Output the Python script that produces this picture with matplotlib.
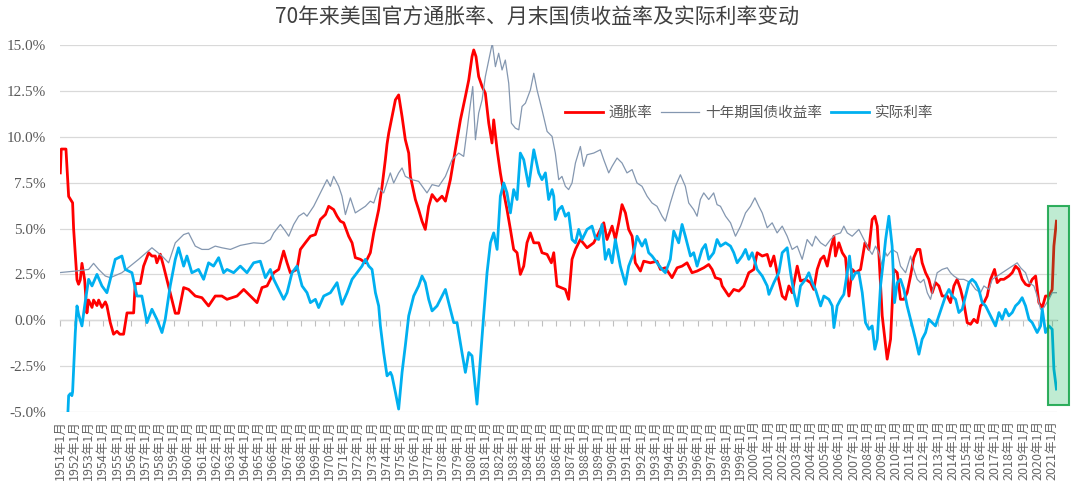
import matplotlib
matplotlib.use("Agg")
import matplotlib.pyplot as plt
from matplotlib.patches import Rectangle

plt.rcParams['font.family'] = ['Noto Sans CJK SC', 'DejaVu Sans']

title = "70年来美国官方通胀率、月末国债收益率及实际利率变动"
series_names = ["通胀率", "十年期国债收益率", "实际利率"]
years = list(range(1951, 2022))
tick_labels = [f"{y}年1月" for y in years]

# (decimal year, %)
inflation = [
    (1951.00, 8.03), (1951.07, 9.33), (1951.40, 9.33), (1951.59, 6.75), (1951.71, 6.60),
    (1951.87, 6.40), (1951.94, 5.00), (1952.18, 2.20), (1952.29, 1.96), (1952.41, 2.20),
    (1952.53, 3.10), (1952.72, 2.20), (1952.88, 0.40), (1953.00, 1.10), (1953.24, 0.70),
    (1953.35, 1.10), (1953.59, 0.80), (1953.71, 1.10), (1953.94, 0.70), (1954.18, 1.00),
    (1954.29, 0.80), (1954.53, -0.13), (1954.76, -0.76), (1955.00, -0.60), (1955.20, -0.76),
    (1955.47, -0.76), (1955.71, 0.40), (1956.18, 0.40), (1956.29, 2.00), (1956.65, 2.00),
    (1956.88, 2.95), (1957.24, 3.68), (1957.47, 3.50), (1957.71, 3.50), (1957.82, 3.13),
    (1958.06, 3.60), (1958.29, 2.95), (1958.76, 1.50), (1959.12, 0.38), (1959.35, 0.38),
    (1959.71, 1.78), (1960.06, 1.68), (1960.53, 1.32), (1961.00, 1.23), (1961.47, 0.78),
    (1961.94, 1.32), (1962.41, 1.32), (1962.77, 1.14), (1963.48, 1.32), (1963.95, 1.68),
    (1964.42, 1.32), (1964.89, 0.96), (1965.24, 1.78), (1965.60, 1.87), (1966.07, 2.59),
    (1966.42, 2.77), (1966.77, 3.77), (1967.01, 3.13), (1967.24, 2.59), (1967.71, 2.77),
    (1967.95, 3.86), (1968.30, 4.22), (1968.66, 4.58), (1969.01, 4.67), (1969.36, 5.49),
    (1969.72, 5.76), (1969.95, 6.21), (1970.30, 6.03), (1970.54, 5.67), (1970.77, 5.40),
    (1971.01, 5.31), (1971.36, 4.58), (1971.60, 4.22), (1971.83, 3.41), (1972.19, 3.32),
    (1972.54, 3.13), (1972.89, 3.68), (1973.13, 4.76), (1973.48, 6.03), (1973.72, 7.30),
    (1973.95, 8.75), (1974.07, 9.60), (1974.19, 10.20), (1974.42, 11.10), (1974.66, 12.01),
    (1974.89, 12.28), (1975.13, 11.10), (1975.36, 9.84), (1975.60, 9.11), (1975.72, 7.84),
    (1976.07, 6.58), (1976.30, 6.03), (1976.54, 5.40), (1976.77, 4.95), (1977.01, 6.21),
    (1977.25, 6.85), (1977.60, 6.49), (1977.95, 6.76), (1978.19, 6.49), (1978.54, 7.66),
    (1978.89, 9.29), (1979.25, 10.92), (1979.60, 12.19), (1979.84, 13.10), (1980.07, 14.37),
    (1980.19, 14.73), (1980.35, 14.37), (1980.54, 13.28), (1980.78, 12.74), (1981.01, 12.37),
    (1981.25, 10.74), (1981.48, 9.66), (1981.60, 10.92), (1981.84, 9.29), (1982.07, 8.03),
    (1982.31, 6.94), (1982.54, 6.03), (1982.78, 4.95), (1983.01, 3.86), (1983.25, 3.68),
    (1983.48, 2.50), (1983.72, 2.95), (1983.95, 4.22), (1984.19, 4.76), (1984.43, 4.22),
    (1984.78, 4.22), (1985.01, 3.68), (1985.37, 3.59), (1985.67, 3.13), (1985.84, 3.68),
    (1986.07, 1.87), (1986.66, 1.68), (1986.89, 1.14), (1987.13, 3.32), (1987.37, 3.86),
    (1987.72, 4.40), (1988.19, 3.95), (1988.66, 4.22), (1989.13, 4.95), (1989.37, 5.31),
    (1989.60, 4.40), (1989.96, 5.13), (1990.19, 4.40), (1990.43, 5.31), (1990.66, 6.30),
    (1990.90, 5.85), (1991.13, 4.95), (1991.37, 4.58), (1991.60, 3.13), (1991.96, 2.68),
    (1992.19, 3.22), (1992.66, 3.13), (1993.13, 3.22), (1993.37, 2.77), (1993.72, 2.86),
    (1994.19, 2.32), (1994.55, 2.86), (1994.90, 2.95), (1995.25, 3.13), (1995.60, 2.59),
    (1995.96, 2.68), (1996.43, 2.86), (1996.78, 3.04), (1997.02, 2.77), (1997.25, 2.32),
    (1997.61, 2.23), (1997.73, 1.87), (1998.20, 1.32), (1998.55, 1.68), (1998.91, 1.59),
    (1999.26, 1.87), (1999.61, 2.59), (1999.97, 2.77), (2000.20, 3.68), (2000.56, 3.50),
    (2000.91, 3.59), (2001.14, 2.95), (2001.38, 3.50), (2001.61, 2.59), (2001.97, 1.32),
    (2002.20, 1.14), (2002.44, 1.87), (2002.67, 1.50), (2003.03, 2.95), (2003.26, 2.14),
    (2003.62, 2.23), (2003.97, 2.05), (2004.20, 1.68), (2004.44, 2.77), (2004.68, 3.32),
    (2004.91, 3.50), (2005.15, 2.95), (2005.38, 3.86), (2005.62, 4.58), (2005.73, 3.50),
    (2005.97, 4.22), (2006.21, 3.68), (2006.44, 3.41), (2006.68, 1.32), (2006.91, 2.77),
    (2007.15, 2.59), (2007.50, 2.77), (2007.81, 4.22), (2008.09, 3.86), (2008.32, 5.49),
    (2008.51, 5.67), (2008.68, 5.13), (2008.79, 3.68), (2009.03, 0.24), (2009.27, -1.39),
    (2009.38, -2.12), (2009.62, -1.03), (2009.85, 2.77), (2010.09, 2.59), (2010.32, 1.14),
    (2010.56, 1.14), (2010.79, 1.50), (2011.03, 2.41), (2011.26, 3.41), (2011.50, 3.86),
    (2011.69, 3.86), (2011.85, 3.13), (2012.09, 2.59), (2012.32, 2.23), (2012.56, 1.50),
    (2012.79, 2.05), (2013.03, 1.87), (2013.26, 1.32), (2013.62, 1.32), (2013.85, 0.96),
    (2014.09, 1.87), (2014.32, 2.23), (2014.56, 1.68), (2014.79, 0.96), (2015.03, -0.13),
    (2015.27, -0.22), (2015.50, 0.05), (2015.74, -0.13), (2015.97, 0.78), (2016.21, 0.96),
    (2016.44, 1.32), (2016.68, 2.23), (2016.96, 2.77), (2017.15, 2.05), (2017.38, 2.23),
    (2017.62, 2.23), (2017.97, 2.41), (2018.21, 2.59), (2018.44, 2.95), (2018.68, 2.77),
    (2018.91, 2.23), (2019.15, 1.96), (2019.39, 1.87), (2019.62, 2.23), (2019.86, 2.41),
    (2020.09, 0.96), (2020.33, 0.69), (2020.56, 1.32), (2020.80, 1.32), (2021.03, 1.68),
    (2021.15, 4.04), (2021.33, 5.40),
]

treasury_10y = [
    (1951.00, 2.60), (1952.06, 2.68), (1953.00, 2.77), (1953.35, 3.10), (1953.71, 2.77),
    (1954.18, 2.41), (1954.53, 2.32), (1955.35, 2.59), (1955.71, 2.81), (1956.53, 3.32),
    (1957.47, 3.95), (1958.18, 3.50), (1958.65, 3.13), (1959.12, 4.22), (1959.71, 4.67),
    (1960.06, 4.76), (1960.53, 4.04), (1961.00, 3.86), (1961.47, 3.86), (1961.94, 4.04),
    (1962.41, 3.95), (1963.01, 3.86), (1963.71, 4.08), (1964.65, 4.22), (1965.36, 4.18),
    (1965.83, 4.40), (1966.07, 4.76), (1966.54, 5.22), (1966.89, 4.86), (1967.13, 4.58),
    (1967.48, 5.22), (1967.83, 5.67), (1968.19, 5.85), (1968.42, 5.67), (1968.89, 6.21),
    (1969.36, 6.94), (1969.83, 7.66), (1970.07, 7.30), (1970.30, 7.84), (1970.66, 7.30),
    (1970.89, 6.76), (1971.13, 5.76), (1971.48, 6.67), (1971.83, 5.85), (1972.19, 6.03),
    (1972.54, 6.21), (1972.89, 6.49), (1973.13, 6.39), (1973.48, 7.21), (1973.83, 6.94),
    (1974.30, 8.03), (1974.54, 7.48), (1974.89, 8.03), (1975.13, 8.30), (1975.36, 7.84),
    (1975.83, 7.66), (1976.30, 7.57), (1976.89, 6.94), (1977.25, 7.39), (1977.72, 7.30),
    (1978.19, 7.84), (1978.66, 8.75), (1979.13, 9.11), (1979.48, 8.93), (1979.84, 11.10),
    (1980.12, 12.74), (1980.31, 9.84), (1980.54, 11.29), (1980.78, 12.01), (1981.01, 13.28),
    (1981.25, 14.18), (1981.50, 15.10), (1981.72, 13.82), (1981.95, 14.55), (1982.19, 13.64),
    (1982.42, 14.18), (1982.66, 12.92), (1982.85, 10.74), (1983.13, 10.47), (1983.37, 10.38),
    (1983.60, 11.65), (1983.84, 11.83), (1984.19, 12.55), (1984.43, 13.46), (1984.66, 12.55),
    (1985.01, 11.47), (1985.37, 10.29), (1985.72, 10.02), (1985.95, 9.11), (1986.19, 7.66),
    (1986.42, 7.84), (1986.66, 7.30), (1986.89, 7.12), (1987.13, 7.48), (1987.37, 8.57),
    (1987.72, 9.47), (1987.95, 8.39), (1988.19, 9.02), (1988.66, 9.11), (1989.13, 9.29),
    (1989.37, 8.75), (1989.72, 8.03), (1989.96, 8.39), (1990.31, 8.84), (1990.66, 8.57),
    (1991.01, 8.03), (1991.37, 8.21), (1991.72, 7.48), (1992.07, 7.30), (1992.43, 6.76),
    (1992.78, 6.39), (1993.13, 6.21), (1993.49, 5.67), (1993.72, 5.40), (1994.07, 6.39),
    (1994.43, 7.30), (1994.78, 7.93), (1995.13, 7.30), (1995.37, 6.39), (1995.72, 6.03),
    (1995.96, 5.67), (1996.19, 6.58), (1996.43, 6.94), (1996.78, 6.58), (1997.13, 6.94),
    (1997.37, 6.30), (1997.61, 6.21), (1997.97, 5.67), (1998.32, 5.31), (1998.67, 4.58),
    (1999.03, 5.13), (1999.38, 5.85), (1999.73, 6.21), (2000.04, 6.67), (2000.32, 6.21),
    (2000.56, 5.85), (2000.91, 5.04), (2001.26, 5.31), (2001.61, 4.76), (2001.97, 5.13),
    (2002.32, 4.58), (2002.67, 3.86), (2003.03, 4.04), (2003.38, 3.32), (2003.73, 4.40),
    (2004.09, 4.04), (2004.32, 4.58), (2004.68, 4.22), (2005.03, 4.04), (2005.38, 4.40),
    (2005.73, 4.67), (2006.09, 4.76), (2006.32, 5.13), (2006.56, 4.76), (2006.91, 4.58),
    (2007.38, 4.95), (2007.74, 4.40), (2008.09, 3.86), (2008.32, 3.59), (2008.56, 4.04),
    (2008.79, 3.68), (2009.03, 2.95), (2009.27, 3.68), (2009.38, 3.50), (2009.73, 3.86),
    (2010.09, 3.68), (2010.32, 2.95), (2010.68, 2.59), (2011.03, 3.50), (2011.26, 2.77),
    (2011.50, 2.23), (2011.73, 2.05), (2011.97, 2.23), (2012.21, 1.50), (2012.44, 1.14),
    (2012.68, 1.87), (2012.91, 2.59), (2013.26, 2.77), (2013.62, 2.86), (2013.85, 2.59),
    (2014.09, 2.41), (2014.44, 2.23), (2014.79, 2.23), (2015.27, 2.05), (2015.62, 1.68),
    (2015.97, 1.50), (2016.21, 1.87), (2016.56, 1.68), (2016.80, 2.23), (2017.15, 2.41),
    (2017.50, 2.59), (2017.86, 2.77), (2018.21, 2.95), (2018.56, 3.13), (2018.80, 2.86),
    (2019.15, 2.59), (2019.39, 2.05), (2019.74, 1.87), (2019.97, 1.32), (2020.21, 0.60),
    (2020.44, 0.69), (2020.80, 1.14), (2021.03, 1.50), (2021.33, 1.50),
]

real_rate = [
    (1951.00, -5.40), (1951.07, -6.70), (1951.40, -6.70), (1951.54, -5.00), (1951.59, -4.11),
    (1951.71, -4.00), (1951.82, -4.11), (1951.87, -3.90), (1952.06, -0.67), (1952.18, 0.78),
    (1952.29, 0.33), (1952.53, -0.31), (1952.72, 0.78), (1953.00, 2.23), (1953.24, 1.87),
    (1953.59, 2.50), (1953.94, 1.87), (1954.29, 1.50), (1954.53, 2.23), (1954.88, 3.32),
    (1955.35, 3.50), (1955.59, 2.77), (1956.06, 2.59), (1956.41, 1.32), (1956.76, 1.32),
    (1957.12, -0.13), (1957.47, 0.60), (1957.82, 0.05), (1958.18, -0.67), (1958.41, 0.05),
    (1958.76, 1.87), (1959.12, 3.32), (1959.35, 3.95), (1959.71, 2.95), (1959.94, 3.50),
    (1960.29, 2.59), (1960.76, 2.77), (1961.12, 2.23), (1961.47, 3.13), (1961.82, 2.95),
    (1962.18, 3.41), (1962.53, 2.59), (1962.77, 2.77), (1963.24, 2.59), (1963.71, 2.95),
    (1964.18, 2.59), (1964.65, 3.13), (1965.12, 3.22), (1965.48, 2.32), (1965.83, 2.77),
    (1966.07, 2.23), (1966.42, 1.68), (1966.77, 1.14), (1967.01, 1.50), (1967.36, 2.59),
    (1967.71, 2.95), (1968.07, 1.87), (1968.42, 1.50), (1968.66, 0.96), (1969.01, 1.14),
    (1969.24, 0.69), (1969.60, 1.32), (1970.07, 1.50), (1970.54, 2.05), (1970.89, 0.87),
    (1971.25, 1.50), (1971.60, 2.23), (1971.95, 2.59), (1972.30, 2.95), (1972.54, 3.32),
    (1972.78, 2.95), (1973.01, 2.77), (1973.25, 1.50), (1973.48, 0.78), (1973.60, -0.31),
    (1973.83, -1.76), (1974.07, -3.03), (1974.31, -2.84), (1974.42, -3.03), (1974.66, -3.93),
    (1974.89, -4.84), (1975.13, -2.84), (1975.36, -1.39), (1975.60, 0.24), (1975.95, 1.32),
    (1976.30, 1.87), (1976.54, 2.41), (1976.77, 2.05), (1977.01, 1.14), (1977.25, 0.51),
    (1977.60, 0.78), (1977.95, 1.32), (1978.19, 1.68), (1978.42, 0.96), (1978.78, -0.13),
    (1979.01, -0.13), (1979.36, -1.76), (1979.60, -2.84), (1979.84, -1.76), (1980.07, -1.94),
    (1980.42, -4.57), (1980.66, -2.12), (1980.89, 0.24), (1981.13, 2.59), (1981.37, 4.22),
    (1981.60, 4.76), (1981.84, 3.86), (1982.07, 6.76), (1982.31, 7.48), (1982.54, 6.94),
    (1982.78, 5.85), (1983.01, 7.12), (1983.25, 6.58), (1983.48, 9.11), (1983.72, 8.75),
    (1984.07, 7.30), (1984.43, 9.29), (1984.78, 8.03), (1985.01, 7.66), (1985.25, 8.03),
    (1985.48, 6.58), (1985.72, 7.12), (1985.84, 6.76), (1985.95, 5.49), (1986.19, 6.03),
    (1986.42, 6.21), (1986.66, 5.67), (1986.89, 5.85), (1987.13, 4.40), (1987.37, 4.22),
    (1987.60, 4.95), (1987.84, 4.40), (1988.19, 4.95), (1988.54, 5.13), (1988.78, 4.49),
    (1989.01, 4.40), (1989.25, 5.22), (1989.48, 3.32), (1989.72, 3.86), (1989.96, 3.13),
    (1990.19, 4.40), (1990.54, 2.95), (1990.90, 1.96), (1991.13, 2.95), (1991.49, 3.68),
    (1991.72, 4.58), (1992.07, 4.04), (1992.31, 4.40), (1992.54, 3.68), (1992.78, 3.50),
    (1993.13, 3.13), (1993.49, 2.77), (1993.72, 2.59), (1994.07, 3.32), (1994.31, 4.86),
    (1994.66, 4.22), (1994.90, 5.22), (1995.13, 4.58), (1995.49, 3.50), (1995.72, 3.68),
    (1995.96, 2.95), (1996.31, 3.86), (1996.55, 4.13), (1996.78, 3.32), (1997.13, 3.68),
    (1997.37, 4.40), (1997.61, 4.04), (1997.97, 4.22), (1998.32, 4.04), (1998.55, 3.68),
    (1998.79, 3.13), (1999.14, 3.50), (1999.38, 3.86), (1999.61, 3.32), (1999.85, 3.68),
    (2000.20, 2.77), (2000.56, 2.41), (2000.91, 1.87), (2001.03, 1.41), (2001.38, 2.05),
    (2001.73, 2.59), (2001.97, 3.68), (2002.32, 3.95), (2002.56, 2.59), (2002.79, 1.50),
    (2003.03, 0.78), (2003.26, 1.87), (2003.62, 2.23), (2003.85, 2.59), (2004.09, 2.05),
    (2004.32, 1.68), (2004.68, 0.78), (2004.91, 1.32), (2005.26, 1.14), (2005.50, 0.78),
    (2005.62, -0.40), (2005.85, 0.78), (2006.09, 1.14), (2006.32, 1.41), (2006.56, 2.59),
    (2006.72, 3.50), (2006.91, 2.23), (2007.15, 2.59), (2007.38, 2.59), (2007.62, 1.50),
    (2007.85, -0.13), (2008.09, -0.49), (2008.32, -0.31), (2008.51, -1.58), (2008.68, -1.03),
    (2008.91, 1.87), (2009.15, 3.50), (2009.27, 4.40), (2009.50, 5.67), (2009.73, 4.04),
    (2009.90, 0.96), (2010.09, 2.05), (2010.32, 2.23), (2010.56, 1.68), (2010.79, 0.78),
    (2011.15, -0.31), (2011.38, -1.03), (2011.62, -1.85), (2011.85, -1.03), (2012.09, -0.67),
    (2012.32, 0.05), (2012.56, -0.13), (2012.79, -0.31), (2013.03, 0.24), (2013.26, 0.78),
    (2013.50, 1.32), (2013.74, 1.68), (2013.97, 1.32), (2014.21, 1.14), (2014.44, 0.42),
    (2014.68, 0.60), (2014.91, 1.32), (2015.15, 2.05), (2015.38, 2.23), (2015.62, 2.05),
    (2015.85, 1.68), (2016.09, 0.96), (2016.33, 0.78), (2016.56, 0.42), (2016.80, 0.05),
    (2017.03, -0.31), (2017.27, 0.42), (2017.50, 0.05), (2017.74, 0.60), (2017.97, 0.24),
    (2018.21, 0.42), (2018.44, 0.78), (2018.68, 0.96), (2018.91, 1.23), (2019.15, 0.78),
    (2019.39, 0.05), (2019.62, -0.13), (2019.97, -0.67), (2020.21, -0.31), (2020.33, 0.60),
    (2020.56, -0.67), (2020.80, -0.31), (2021.03, -0.49), (2021.15, -2.66), (2021.33, -3.75),
]

highlight_span = (2020.70, 2022.19)   # 2021 highlight box (dates)
highlight_vals = (-4.62, 6.2)         # value range of the box

colors = ["#FF0000", "#8497B0", "#00B0F0"]
widths = [2.0, 0.9, 2.0]
grey_txt = "#595959"

fig = plt.figure(figsize=(10.8, 5.0), dpi=100)
ax = fig.add_axes([60 / 1080, 1 - 412 / 500, 997 / 1080, 367 / 500])

for data, name, c, lw in zip([inflation, treasury_10y, real_rate], series_names, colors, widths):
    xs = [p[0] for p in data]
    ys = [p[1] for p in data]
    ax.plot(xs, ys, color=c, lw=lw, label=name, solid_joinstyle='round')

ax.set_ylim(-5, 15)
ax.set_xlim(1950.98, 2021.37)
yt = [-5 + 2.5 * i for i in range(9)]
ax.set_yticks(yt)
ax.set_yticklabels([f"{v:.1f}%" for v in yt], family=['Liberation Serif'], fontsize=11, color=grey_txt)
ax.grid(axis='y', color='#D9D9D9', lw=0.9)
ax.set_axisbelow(True)
for s in ax.spines.values():
    s.set_visible(False)
ax.tick_params(axis='y', length=0, pad=10)

ax.set_xticks(years)
ax.set_xticklabels(tick_labels, rotation=90, fontsize=9, color='#666666')
ax.tick_params(axis='x', length=0, pad=6)

# zero axis line with tick marks
sec = ax.secondary_xaxis(0.25)
sec.set_xticks(years)
sec.set_xticklabels([])
sec.tick_params(axis='x', length=4, color='#BFBFBF', direction='out')
sec.spines['bottom'].set_color('#BFBFBF')
sec.spines['bottom'].set_linewidth(0.9)

rect = Rectangle((highlight_span[0], highlight_vals[0]),
                 highlight_span[1] - highlight_span[0],
                 highlight_vals[1] - highlight_vals[0],
                 facecolor=(0.0, 0.69, 0.31, 0.25), edgecolor=(0.1, 0.65, 0.3, 0.9),
                 lw=1.5, clip_on=False, zorder=5)
ax.add_patch(rect)

leg = ax.legend(loc='center', bbox_to_anchor=(0.691, 0.815), ncol=3, frameon=False,
                fontsize=10.5, handlelength=2.6, columnspacing=0.6, handletextpad=0.4)
for t in leg.get_texts():
    t.set_color(grey_txt)

fig.text(0.497, 1 - 18 / 500, title, ha='center', va='center', fontsize=15, color='#404040')

fig.savefig("out.png", dpi=100)
